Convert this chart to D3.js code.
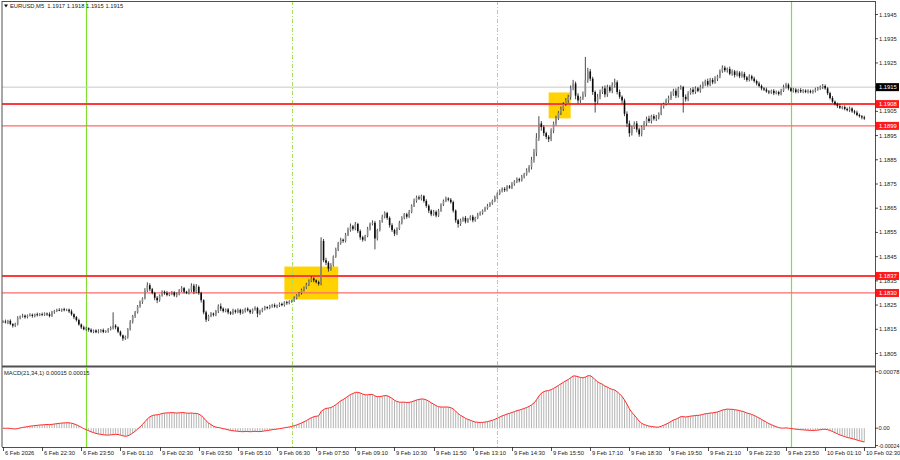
<!DOCTYPE html>
<html><head><meta charset="utf-8">
<script src="https://cdn.jsdelivr.net/npm/d3@7"></script>
<style>body{margin:0;background:#fff}svg{display:block}text{font-family:"Liberation Sans",Arial,sans-serif}</style>
</head><body><svg id="c" width="900" height="460"></svg>
<script>
// ---- DATA ----
const symbolTitle = "EURUSD,M5  1.1917 1.1918 1.1915 1.1915";
const macdTitle = "MACD(21,34,1) 0.00015 0.00015";
const basePrice = 1.18; // closes below in 0.00001 above this base
const closes = [
182,178,185,172,165,170,198,203,206,200,
207,210,205,212,208,213,210,215,212,205,
220,226,230,228,233,229,231,224,212,200,
188,170,158,150,155,148,140,145,138,142,
147,139,143,150,155,165,158,140,125,112,
118,150,180,205,220,245,262,278,310,332,
315,300,280,270,290,305,300,292,298,302,
290,295,310,320,305,300,312,330,305,325,
300,270,220,190,205,215,210,225,245,235,
225,232,220,215,228,222,230,218,225,235,
228,220,232,238,215,225,235,242,238,245,
250,244,248,255,250,262,258,265,268,280,
290,300,312,322,335,350,360,352,345,338,
515,435,425,400,415,450,480,505,520,515,
540,560,575,565,585,555,530,520,535,565,
585,590,525,560,595,615,630,610,580,560,
545,565,590,610,625,615,635,660,680,695,
690,700,680,660,640,625,635,620,640,665,
680,690,685,675,640,600,585,600,610,595,
605,615,600,610,625,630,640,650,660,670,
680,695,710,720,730,725,740,735,750,760,
770,765,780,790,805,820,850,880,940,1000,
985,960,945,935,970,1000,1020,1045,1060,1080,
1095,1110,1145,1165,1115,1095,1105,1120,1180,1215,
1185,1130,1090,1110,1130,1145,1120,1150,1135,1160,
1170,1130,1110,1095,1040,1000,960,985,1000,975,
955,985,1000,1020,1010,1030,1020,1025,1040,1070,
1080,1095,1105,1120,1135,1115,1145,1150,1110,1100,
1125,1140,1130,1145,1135,1150,1165,1175,1160,1180,
1170,1185,1195,1215,1230,1220,1225,1205,1215,1200,
1210,1195,1205,1190,1180,1195,1185,1175,1165,1155,
1145,1140,1132,1128,1135,1125,1130,1122,1135,1150,
1160,1145,1135,1140,1130,1138,1132,1136,1130,1134,
1129,1135,1140,1145,1150,1155,1145,1125,1105,1090,
1080,1072,1065,1068,1060,1055,1062,1050,1045,1035,
1030,1025,1020];
const wickUp = [
5,8,4,6,3,7,6,4,8,5, 4,6,5,3,7,4,6,5,4,8, 6,4,5,7,3,6,4,5,8,4, 5,6,4,7,5,3,6,4,5,8,
4,6,3,5,7,55,6,4,5,3, 6,5,8,4,6,5,7,4,10,12, 8,6,5,7,4,6,5,8,4,6, 5,7,6,8,5,4,6,10,8,12,
6,5,4,7,5,6,4,5,8,12, 5,4,6,5,7,4,6,5,8,4, 6,5,4,7,5,6,4,5,3,6, 5,7,4,6,5,4,6,5,4,6,
5,4,6,5,7,6,8,5,4,6, 15,8,10,6,8,5,7,6,8,5, 8,10,12,6,8,5,7,6,5,8, 6,10,8,5,6,8,7,5,6,8,
5,6,8,7,5,6,8,6,10,7, 8,6,5,7,6,5,8,6,7,5, 6,8,5,7,6,5,6,7,5,8, 5,6,8,5,6,7,5,6,8,5,
6,7,5,8,6,7,5,6,8,6, 7,6,8,6,10,8,12,15,20,30, 10,8,6,7,10,8,12,6,10,8, 10,8,12,15,8,10,6,12,95,15,
10,8,6,12,10,8,12,10,8,10, 15,8,10,6,8,10,12,6,8,10, 8,6,10,8,12,6,8,10,6,8, 6,8,10,12,8,10,6,8,5,10,
8,6,10,8,6,10,8,6,10,8, 8,10,6,8,10,8,6,10,8,6, 8,6,10,8,6,8,6,8,6,8, 6,5,8,6,5,7,6,5,8,10,
8,6,5,7,6,5,8,6,5,7, 6,5,8,6,7,8,6,5,6,8, 5,6,8,5,7,6,8,5,6,8, 6,5,7];
const wickDown = [
6,4,7,5,8,6,4,7,5,6, 5,4,7,6,5,4,6,5,7,6, 4,6,5,3,6,5,4,7,6,8, 6,5,7,4,6,8,5,6,4,5,
6,5,4,7,5,6,8,6,5,10, 6,7,5,6,8,5,6,7,5,6, 8,6,10,12,6,5,8,6,5,7, 6,8,5,6,7,5,6,8,10,6,
8,10,8,10,6,5,7,6,8,10, 6,5,8,6,5,7,6,8,5,6, 5,7,6,5,15,6,5,7,6,5, 6,5,7,6,5,6,7,5,6,5,
6,5,7,6,5,6,5,8,6,8, 6,8,10,12,8,6,5,7,6,8, 6,5,7,8,6,8,10,8,6,5, 7,6,45,8,6,5,7,8,10,8,
10,6,5,7,6,8,5,6,5,7, 6,8,7,8,10,8,6,8,6,5, 6,5,7,6,8,10,15,8,6,8, 6,5,8,6,5,6,7,5,6,5,
6,5,7,6,5,8,6,5,6,7, 6,8,5,7,6,8,10,12,15,12, 15,12,10,12,8,10,8,6,10,8, 8,10,12,8,15,12,10,8,10,12,
10,12,45,8,10,8,12,10,8,10, 12,10,8,12,10,15,15,10,8,12, 10,8,12,10,8,10,8,10,8,6, 8,6,10,8,6,10,8,6,65,10,
8,6,10,8,6,8,6,10,8,6, 8,6,10,8,6,8,10,6,8,10, 6,8,6,10,8,6,8,6,8,6, 8,6,5,7,6,8,5,7,6,5,
6,8,5,7,6,5,6,7,5,6, 5,6,7,5,6,8,6,8,6,5, 6,8,5,7,6,5,8,6,7,5, 6,8,5];
const xTickLabels = ["6 Feb 2026","6 Feb 22:30","6 Feb 23:50","9 Feb 01:10","9 Feb 02:30","9 Feb 03:50",
  "9 Feb 05:10","9 Feb 06:30","9 Feb 07:50","9 Feb 09:10","9 Feb 10:30","9 Feb 11:50","9 Feb 13:10",
  "9 Feb 14:30","9 Feb 15:50","9 Feb 17:10","9 Feb 18:30","9 Feb 19:50","9 Feb 21:10","9 Feb 22:30",
  "9 Feb 23:50","10 Feb 01:10","10 Feb 02:30"];
const barsPerXTick = 16;
const yTickValues = [1.1945,1.1935,1.1925,1.1915,1.1905,1.1895,1.1885,1.1875,1.1865,1.1855,1.1845,1.1835,1.1825,1.1815,1.1805];
const bidPrice = 1.1915;
const levelPrices = [1.1908, 1.1899, 1.1837, 1.1830];
const levelMajor = [true, false, true, false];
const dayStartBars = [34, 322];
const sessionBars = [118, 202];
const zoneBars = [[115,137],[223,232]];
const zonePrices = [[1.18273,1.18409],[1.19021,1.19128]];
const macdTicks = [0.00078, 0.00, -0.00024];
const macdTickLabels = ["0.00078","0.00","-0.00024"];
const macdFast = 21, macdSlow = 34;

// ---- DERIVED ----
const n = closes.length;
const bars = closes.map((c,i)=>{
  const close = basePrice + c/1e5;
  const open = basePrice + (i ? closes[i-1] : c)/1e5;
  return {i, open, close,
    high: Math.max(open,close) + wickUp[i]/1e5,
    low: Math.min(open,close) - wickDown[i]/1e5};
});
function ema(vals, p){ const a=2/(p+1); let e=vals[0]; return vals.map(v=> e = e + a*(v-e)); }
const cl = bars.map(b=>b.close);
const ef = ema(cl, macdFast), es = ema(cl, macdSlow);
const macd = cl.map((_,i)=>ef[i]-es[i]);

// ---- LAYOUT ----
const L=2, R=875, T=1, MB=366, MT=368, MBot=447;
const svg = d3.select("#c");
const x = d3.scaleLinear().domain([0, n-1]).range([3, 864.3]);
const y = d3.scaleLinear().domain([1.1805, 1.1945]).range([353.5, 14.5]);
const ym = d3.scaleLinear().domain([-0.00024, 0.00078]).range([445.6, 371.7]);

svg.append("rect").attr("width",900).attr("height",460).attr("fill","#fff");
svg.append("defs").append("clipPath").attr("id","cm").append("rect")
  .attr("x",L).attr("y",T).attr("width",R-L).attr("height",MB-T);
const gm = svg.append("g").attr("clip-path","url(#cm)");

// zones
gm.selectAll(".zone").data(zoneBars).join("rect")
  .attr("x",d=>x(d[0])).attr("width",(d)=>x(d[1])-x(d[0]))
  .attr("y",(d,i)=>y(zonePrices[i][1])).attr("height",(d,i)=>y(zonePrices[i][0])-y(zonePrices[i][1]))
  .attr("fill","#ffd200");

// vertical lines
gm.selectAll(".sess").data(sessionBars).join("line")
  .attr("x1",d=>Math.round(x(d))+0.5).attr("x2",d=>Math.round(x(d))+0.5).attr("y1",T).attr("y2",MB)
  .attr("stroke","#a8e060").attr("stroke-width",1).attr("stroke-dasharray","4,2,1,2");
gm.selectAll(".day").data(dayStartBars).join("line")
  .attr("x1",d=>Math.round(x(d))+0.5).attr("x2",d=>Math.round(x(d))+0.5).attr("y1",T).attr("y2",MB)
  .attr("stroke","#7fe030").attr("stroke-width",1.2);

// bid line
gm.append("line").attr("x1",L).attr("x2",R).attr("y1",y(bidPrice)).attr("y2",y(bidPrice))
  .attr("stroke","#c8c8c8").attr("stroke-width",1);
// levels
gm.selectAll(".lvl").data(levelPrices).join("line")
  .attr("x1",L).attr("x2",R).attr("y1",d=>y(d)).attr("y2",d=>y(d))
  .attr("stroke",(d,i)=>levelMajor[i]?"#ff3a3a":"#ff6a6a")
  .attr("stroke-width",(d,i)=>levelMajor[i]?2:1.3);

// candles
gm.selectAll(".wick").data(bars).join("line")
  .attr("x1",d=>x(d.i)).attr("x2",d=>x(d.i)).attr("y1",d=>y(d.high)).attr("y2",d=>y(d.low))
  .attr("stroke","#1a1a1a").attr("stroke-width",0.8);
gm.selectAll(".body").data(bars).join("rect")
  .attr("x",d=>x(d.i)-0.8).attr("width",1.6)
  .attr("y",d=>y(Math.max(d.open,d.close)))
  .attr("height",d=>Math.max(0.8, Math.abs(y(d.open)-y(d.close))))
  .attr("fill",d=>d.close>=d.open?"#8c8c8c":"#0a0a0a");

// MACD panel
svg.append("defs").append("clipPath").attr("id","cmacd").append("rect")
  .attr("x",L).attr("y",MT).attr("width",R-L).attr("height",MBot-MT);
const gd = svg.append("g").attr("clip-path","url(#cmacd)");
gd.selectAll(".dayb").data(dayStartBars).join("line")
  .attr("x1",d=>Math.round(x(d))+0.5).attr("x2",d=>Math.round(x(d))+0.5).attr("y1",MT).attr("y2",MBot)
  .attr("stroke","#7fe030").attr("stroke-width",1.2);
gd.selectAll(".sessb").data(sessionBars).join("line")
  .attr("x1",d=>Math.round(x(d))+0.5).attr("x2",d=>Math.round(x(d))+0.5).attr("y1",MT).attr("y2",MBot)
  .attr("stroke","#a8e060").attr("stroke-width",1).attr("stroke-dasharray","4,2,1,2");
gd.selectAll(".hist").data(macd).join("line")
  .attr("x1",(d,i)=>x(i)).attr("x2",(d,i)=>x(i)).attr("y1",ym(0)).attr("y2",d=>ym(d))
  .attr("stroke","#b4b4b4").attr("stroke-width",1);
gd.append("path").datum(macd)
  .attr("d", d3.line().x((d,i)=>x(i)).y(d=>ym(d)))
  .attr("fill","none").attr("stroke","#ff2a2a").attr("stroke-width",1);

// frames
const fr = "#505050";
svg.append("line").attr("x1",L).attr("x2",L).attr("y1",T).attr("y2",MBot).attr("stroke",fr).attr("stroke-width",1);
svg.append("line").attr("x1",L).attr("x2",R).attr("y1",T+0.5).attr("y2",T+0.5).attr("stroke",fr).attr("stroke-width",1);
svg.append("line").attr("x1",L).attr("x2",R).attr("y1",MB+0.5).attr("y2",MB+0.5).attr("stroke",fr).attr("stroke-width",2);
svg.append("line").attr("x1",L).attr("x2",R).attr("y1",MBot+0.5).attr("y2",MBot+0.5).attr("stroke",fr).attr("stroke-width",1);
svg.append("line").attr("x1",R+0.5).attr("x2",R+0.5).attr("y1",T).attr("y2",MBot+1).attr("stroke",fr).attr("stroke-width",1);

// y axis labels
const fs = 5.8, tc = "#202020";
svg.selectAll(".yt").data(yTickValues).join("g").each(function(d){
  const g = d3.select(this), yy = y(d);
  g.append("line").attr("x1",R).attr("x2",R+3).attr("y1",yy).attr("y2",yy).attr("stroke",tc).attr("stroke-width",0.8);
  g.append("text").attr("x",R+4).attr("y",yy+2).attr("font-size",fs).attr("fill",tc).text(d.toFixed(4));
});
// price tags
function tag(p, bg){
  const yy = y(p);
  svg.append("rect").attr("x",R+1).attr("y",yy-4).attr("width",23).attr("height",8).attr("fill",bg);
  svg.append("text").attr("x",R+4).attr("y",yy+2).attr("font-size",fs).attr("fill","#fff").text(p.toFixed(4));
}
tag(bidPrice, "#000");
levelPrices.forEach(p=>tag(p, "#ff1a1a"));

// MACD axis labels
macdTicks.forEach((v,i)=>{
  const yy = ym(v);
  svg.append("line").attr("x1",R).attr("x2",R+3).attr("y1",yy).attr("y2",yy).attr("stroke",tc).attr("stroke-width",0.8);
  svg.append("text").attr("x",R+3.5).attr("y",yy+2).attr("font-size",fs).attr("fill",tc)
    .attr("textLength", macdTickLabels[i].length > 7 ? 21 : null)
    .attr("lengthAdjust","spacingAndGlyphs")
    .text(macdTickLabels[i]);
});

// x axis
xTickLabels.forEach((lab,k)=>{
  const xx = Math.round(x(k*barsPerXTick))+0.5;
  svg.append("line").attr("x1",xx).attr("x2",xx).attr("y1",MBot).attr("y2",MBot+4).attr("stroke",tc).attr("stroke-width",0.8);
  svg.append("text").attr("x",xx+1.5).attr("y",MBot+8).attr("font-size",fs).attr("fill",tc).text(lab);
});

// titles
svg.append("path").attr("d","M4,4.5 L8,4.5 L6,7.5 Z").attr("fill","#111");
svg.append("text").attr("x",10).attr("y",8).attr("font-size",fs).attr("fill",tc).attr("xml:space","preserve").style("white-space","pre").text(symbolTitle);
svg.append("text").attr("x",4).attr("y",375).attr("font-size",fs).attr("fill",tc).text(macdTitle);
</script></body></html>
